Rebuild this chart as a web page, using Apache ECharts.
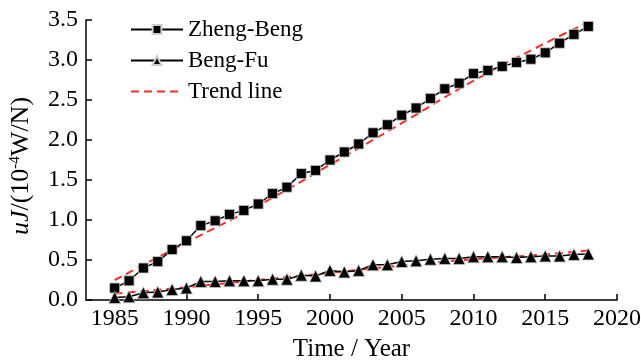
<!DOCTYPE html>
<html>
<head>
<meta charset="utf-8">
<script src="https://cdn.jsdelivr.net/npm/echarts@6/dist/echarts.min.js"></script>
<style>html,body{margin:0;padding:0;background:#fff;}#c{width:641px;height:361px;}</style>
</head>
<body>
<div id="c"></div>
<script>
const years = [1985,1986,1987,1988,1989,1990,1991,1992,1993,1994,1995,1996,1997,1998,1999,2000,2001,2002,2003,2004,2005,2006,2007,2008,2009,2010,2011,2012,2013,2014,2015,2016,2017,2018];
const zhengBeng = [0.15,0.24,0.40,0.48,0.63,0.74,0.93,0.99,1.07,1.12,1.20,1.33,1.41,1.58,1.62,1.75,1.85,1.95,2.09,2.19,2.31,2.40,2.52,2.64,2.71,2.83,2.87,2.92,2.97,3.01,3.09,3.21,3.32,3.42];
const bengFu = [0.03,0.04,0.09,0.10,0.13,0.15,0.23,0.23,0.24,0.24,0.24,0.26,0.26,0.31,0.30,0.37,0.35,0.37,0.44,0.44,0.48,0.49,0.51,0.52,0.52,0.54,0.54,0.54,0.53,0.54,0.55,0.55,0.57,0.575];
const trendYears = [1985,1990,1995,2000,2005,2010,2015,2018];
const trendZB = [0.25,0.72,1.18,1.69,2.21,2.74,3.21,3.47];
const trendBF = [0.08,0.16,0.25,0.34,0.43,0.51,0.57,0.62];
const xTicks = [1985,1990,1995,2000,2005,2010,2015,2020];

const FONT = 'Liberation Serif';
const pair = (xs, ys) => xs.map((x, i) => [x, ys[i]]);

const chart = echarts.init(document.getElementById('c'), null, {renderer: 'canvas'});
chart.setOption({
  animation: false,
  backgroundColor: '#fff',
  textStyle: {fontFamily: FONT, color: '#000'},
  grid: {left: 86, top: 20, width: 531, height: 280, containLabel: false, outerBoundsMode: 'none'},
  legend: {
    orient: 'vertical', left: 125, top: 13, itemWidth: 52, itemHeight: 11, itemGap: 8,
    textStyle: {fontFamily: FONT, fontSize: 23, color: '#000'},
    data: ['Zheng-Beng', 'Beng-Fu', {name: 'Trend line', itemStyle: {opacity: 0}}]
  },
  xAxis: {
    type: 'value', min: 1983, max: 2020,
    name: 'Time / Year', nameLocation: 'middle', nameGap: 37,
    nameTextStyle: {fontFamily: FONT, fontSize: 25, color: '#000'},
    axisLine: {show: true, onZero: false, lineStyle: {color: '#000', width: 1.5}},
    axisTick: {show: true, inside: true, length: 6, lineStyle: {color: '#000', width: 1.5}, customValues: xTicks},
    axisLabel: {fontFamily: FONT, fontSize: 24, color: '#000', margin: 7, customValues: xTicks, formatter: v => String(v)},
    splitLine: {show: false}
  },
  yAxis: {
    type: 'value', min: 0, max: 3.5, interval: 0.5,
    name: '{i|uJ}/(10{sup|-4}W/N)', nameLocation: 'middle', nameGap: 52, nameRotate: 90,
    nameTextStyle: {
      fontFamily: FONT, fontSize: 26, color: '#000', padding: [0, 12, 0, 0],
      rich: {
        i: {fontFamily: FONT, fontSize: 26, fontStyle: 'italic', color: '#000'},
        sup: {fontFamily: FONT, fontSize: 15, color: '#000', verticalAlign: 'top', padding: [0, 0, 10, 0]}
      }
    },
    axisLine: {show: true, lineStyle: {color: '#000', width: 1.5}},
    axisTick: {show: true, inside: true, length: 6, lineStyle: {color: '#000', width: 1.5}},
    axisLabel: {fontFamily: FONT, fontSize: 24, color: '#000', margin: 8, formatter: v => v.toFixed(1)},
    splitLine: {show: false}
  },
  series: [
    {
      name: 'Zheng-Beng', type: 'line', data: pair(years, zhengBeng),
      symbol: 'rect', symbolSize: 10, showAllSymbol: true,
      lineStyle: {color: '#000', width: 1.5},
      itemStyle: {color: '#000', borderColor: '#ccc', borderWidth: 0.8},
      z: 3
    },
    {
      name: 'Beng-Fu', type: 'line', data: pair(years, bengFu),
      symbol: 'triangle', symbolSize: 12, showAllSymbol: true,
      lineStyle: {color: '#000', width: 1.5},
      itemStyle: {color: '#000', borderColor: '#ccc', borderWidth: 0.8},
      z: 3
    },
    {
      name: 'Trend line', type: 'line', data: pair(trendYears, trendZB), smooth: true,
      symbol: 'none',
      lineStyle: {color: '#f0302a', width: 2, type: [8, 5]},
      itemStyle: {color: '#f0302a'},
      z: 2
    },
    {
      name: 'Trend line', type: 'line', data: pair(trendYears, trendBF), smooth: true,
      symbol: 'none',
      lineStyle: {color: '#f0302a', width: 2, type: [8, 5]},
      itemStyle: {color: '#f0302a'},
      z: 2
    }
  ]
});
</script>
</body>
</html>
